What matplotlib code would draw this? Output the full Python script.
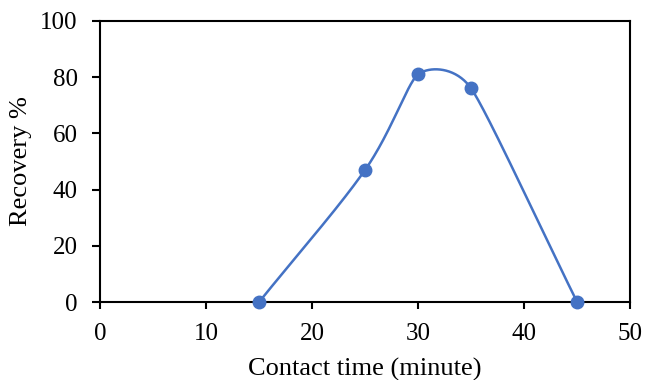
import numpy as np
import matplotlib
matplotlib.use("Agg")
import matplotlib.pyplot as plt

contact_time = [15, 25, 30, 35, 45]
recovery = [0, 47, 81, 76, 0]
x_ticks = [0, 10, 20, 30, 40, 50]
y_ticks = [0, 20, 40, 60, 80, 100]

plt.rcParams['font.family'] = ['Liberation Serif', 'DejaVu Serif']


def smooth_curve(ax, xs, ys, n=60):
    # Excel-like Bezier smoothing in display space; per-point arm factor
    # is the smaller of the factors of its two neighbouring segments
    P = ax.transData.transform(np.column_stack([xs, ys]).astype(float))
    m = len(P)
    ext = [P[0]] + list(P) + [P[-1]]
    tang = [ext[i + 2] - ext[i] for i in range(m)]
    fac = [1.0] * m
    for i in range(m - 1):
        p0, p1, p2, p3 = ext[i], ext[i + 1], ext[i + 2], ext[i + 3]
        d12 = np.linalg.norm(p2 - p1)
        d02 = np.linalg.norm(p2 - p0)
        d13 = np.linalg.norm(p3 - p1)
        a = d02 / 6 < d12 / 2
        b = d13 / 6 < d12 / 2
        if a and b:
            fa = 1/3 if np.allclose(p0, p1) else 1/6
            fb = 1/3 if np.allclose(p2, p3) else 1/6
        elif (not a) and (not b):
            fa = d12 / 2 / d02
            fb = d12 / 2 / d13
        elif not a:
            fa = fb = d12 / 2 / d02
        else:
            fa = fb = d12 / 2 / d13
        fac[i] = min(fac[i], fa)
        fac[i + 1] = min(fac[i + 1], fb)
    out = []
    for i in range(m - 1):
        p1, p2 = P[i], P[i + 1]
        c1 = p1 + tang[i] * fac[i]
        c2 = p2 - tang[i + 1] * fac[i + 1]
        t = np.linspace(0, 1, n)[:, None]
        seg = (1-t)**3*p1 + 3*(1-t)**2*t*c1 + 3*(1-t)*t**2*c2 + t**3*p2
        out.append(seg)
    out = np.vstack(out)
    d = ax.transData.inverted().transform(out)
    return d[:, 0], d[:, 1]


fig = plt.figure(figsize=(6.45, 3.8), dpi=100)
ax = fig.add_axes([0.155, 0.205, 0.822, 0.74])
ax.set_xlim(0, 50)
ax.set_ylim(0, 100)
color = '#4472C4'
sx, sy = smooth_curve(ax, contact_time, recovery)
ax.plot(sx, sy, color=color, lw=1.8, clip_on=False, zorder=3)
ax.plot(contact_time, recovery, 'o', color=color, ms=9, clip_on=False, zorder=4)
ax.set_xticks(x_ticks)
ax.set_yticks(y_ticks)
ax.tick_params(axis='x', direction='out', length=5, width=1.5, labelsize=18, pad=10)
ax.tick_params(axis='y', direction='out', length=6, width=1.5, labelsize=18, pad=10)
for s in ax.spines.values():
    s.set_linewidth(1.5)
ax.set_xlabel('Contact time (minute)', fontsize=19, labelpad=9)
ax.set_ylabel('Recovery %', fontsize=19, labelpad=6)
fig.savefig('out.png', dpi=100)
